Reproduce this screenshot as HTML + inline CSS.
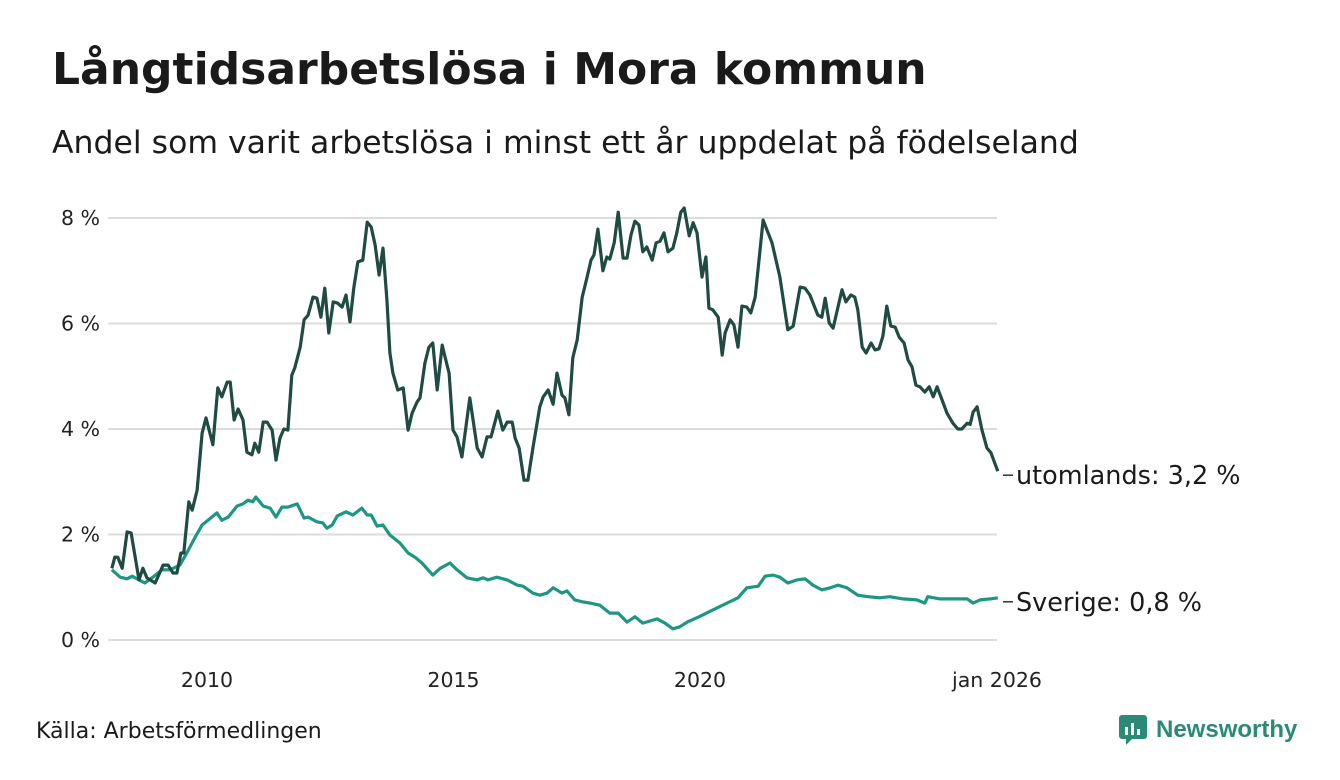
<!DOCTYPE html>
<html><head><meta charset="utf-8">
<style>
html,body{margin:0;padding:0;background:#fff;}
body{width:1340px;height:780px;overflow:hidden;position:relative;font-family:"DejaVu Sans","Liberation Sans",sans-serif;color:#1a1a1a;}
#title{position:absolute;left:52px;top:44px;font-size:44px;font-weight:bold;margin:0;white-space:nowrap;}
#subtitle{position:absolute;left:52px;top:125px;font-size:31.5px;margin:0;white-space:nowrap;}
#source{position:absolute;left:36px;top:719px;font-size:22px;}
#logo{position:absolute;left:1118px;top:714px;display:flex;align-items:center;gap:8px;font-family:"Liberation Sans",sans-serif;}
#logo span{font-size:24px;font-weight:bold;color:#2a8a76;}
svg{position:absolute;left:0;top:0;}
</style></head>
<body>
<h1 id="title">Långtidsarbetslösa i Mora kommun</h1>
<p id="subtitle">Andel som varit arbetslösa i minst ett år uppdelat på födelseland</p>
<svg id="chart" width="1340" height="780"></svg>
<div id="source">Källa: Arbetsförmedlingen</div>
<div id="logo">
<svg width="30" height="32" viewBox="0 0 30 32" style="position:static"><rect x="1" y="1" width="28" height="24" rx="3" fill="#2a8a76"/><polygon points="8,25 14,25 8,31" fill="#2a8a76"/><rect x="7" y="13" width="3" height="8" fill="#fff"/><rect x="13" y="9" width="3" height="12" fill="#fff"/><rect x="19" y="15" width="3" height="6" fill="#fff"/></svg>
<span>Newsworthy</span></div>
<script>
const yTicks=[0,2,4,6,8];
const xTickYears=[2010,2015,2020,2026];
const xTickLabels=["2010","2015","2020","jan 2026"];
const foreignDates=[2008.07,2008.13,2008.19,2008.28,2008.38,2008.46,2008.62,2008.70,2008.78,2008.95,2009.11,2009.21,2009.31,2009.39,2009.47,2009.53,2009.63,2009.70,2009.80,2009.90,2009.98,2010.12,2010.22,2010.30,2010.41,2010.47,2010.55,2010.63,2010.73,2010.81,2010.91,2010.97,2011.05,2011.14,2011.22,2011.32,2011.40,2011.48,2011.56,2011.64,2011.72,2011.78,2011.89,2011.97,2012.05,2012.15,2012.23,2012.31,2012.39,2012.47,2012.56,2012.64,2012.74,2012.82,2012.90,2012.98,2013.06,2013.16,2013.25,2013.33,2013.41,2013.49,2013.57,2013.65,2013.71,2013.77,2013.87,2013.98,2014.08,2014.16,2014.26,2014.32,2014.42,2014.50,2014.58,2014.67,2014.77,2014.83,2014.91,2014.99,2015.07,2015.17,2015.33,2015.48,2015.58,2015.68,2015.76,2015.90,2016.00,2016.09,2016.19,2016.25,2016.33,2016.43,2016.51,2016.61,2016.75,2016.82,2016.92,2017.02,2017.10,2017.20,2017.26,2017.34,2017.42,2017.51,2017.61,2017.71,2017.79,2017.85,2017.93,2018.03,2018.11,2018.17,2018.26,2018.34,2018.44,2018.52,2018.60,2018.68,2018.76,2018.84,2018.92,2019.03,2019.11,2019.19,2019.27,2019.35,2019.45,2019.53,2019.61,2019.68,2019.78,2019.86,2019.94,2020.04,2020.12,2020.18,2020.26,2020.37,2020.45,2020.51,2020.61,2020.69,2020.77,2020.85,2020.95,2021.03,2021.12,2021.28,2021.46,2021.62,2021.78,2021.89,2022.03,2022.13,2022.23,2022.39,2022.47,2022.54,2022.62,2022.70,2022.88,2022.96,2023.06,2023.14,2023.20,2023.29,2023.37,2023.47,2023.55,2023.63,2023.71,2023.79,2023.87,2023.96,2024.04,2024.14,2024.22,2024.30,2024.38,2024.46,2024.56,2024.65,2024.73,2024.81,2024.91,2025.01,2025.13,2025.23,2025.31,2025.42,2025.48,2025.54,2025.62,2025.72,2025.82,2025.90,2026.04];
const foreignValues=[1.36,1.57,1.57,1.36,2.05,2.03,1.14,1.36,1.18,1.08,1.42,1.42,1.27,1.27,1.65,1.65,2.62,2.46,2.84,3.92,4.21,3.70,4.78,4.61,4.89,4.89,4.17,4.38,4.17,3.56,3.51,3.73,3.56,4.13,4.13,3.98,3.41,3.83,4.00,3.98,5.02,5.16,5.55,6.07,6.16,6.50,6.48,6.12,6.67,5.82,6.41,6.39,6.31,6.54,6.03,6.69,7.17,7.20,7.92,7.83,7.49,6.92,7.43,6.45,5.44,5.06,4.74,4.78,3.98,4.30,4.51,4.59,5.25,5.55,5.63,4.74,5.59,5.36,5.06,3.98,3.85,3.47,4.59,3.64,3.47,3.85,3.85,4.34,3.98,4.13,4.13,3.83,3.64,3.03,3.03,3.64,4.42,4.61,4.74,4.47,5.06,4.64,4.59,4.27,5.35,5.69,6.50,6.88,7.20,7.30,7.79,7.00,7.26,7.22,7.53,8.11,7.24,7.24,7.68,7.94,7.87,7.36,7.45,7.20,7.53,7.56,7.72,7.36,7.43,7.72,8.11,8.19,7.66,7.91,7.72,6.88,7.26,6.29,6.26,6.12,5.40,5.82,6.07,5.97,5.55,6.33,6.31,6.20,6.50,7.96,7.53,6.88,5.88,5.95,6.69,6.67,6.54,6.16,6.12,6.48,6.01,5.91,6.64,6.41,6.54,6.50,6.26,5.55,5.44,5.63,5.50,5.52,5.76,6.33,5.95,5.93,5.74,5.63,5.31,5.18,4.83,4.80,4.70,4.80,4.61,4.80,4.55,4.30,4.11,4.00,4.00,4.11,4.09,4.32,4.42,3.98,3.64,3.55,3.20];
const swedenDates=[2008.07,2008.24,2008.38,2008.48,2008.58,2008.74,2008.90,2009.09,2009.25,2009.45,2009.59,2009.76,2009.90,2010.02,2010.20,2010.30,2010.43,2010.61,2010.73,2010.83,2010.93,2010.99,2011.14,2011.28,2011.40,2011.52,2011.64,2011.83,2011.97,2012.05,2012.23,2012.35,2012.43,2012.54,2012.64,2012.82,2012.96,2013.14,2013.25,2013.33,2013.45,2013.57,2013.71,2013.91,2014.08,2014.22,2014.36,2014.58,2014.73,2014.93,2015.07,2015.27,2015.48,2015.60,2015.70,2015.88,2016.09,2016.29,2016.41,2016.61,2016.75,2016.90,2017.02,2017.20,2017.30,2017.46,2017.63,2017.77,2017.97,2018.17,2018.34,2018.52,2018.68,2018.84,2019.13,2019.29,2019.45,2019.59,2019.74,2020.00,2020.26,2020.55,2020.77,2020.95,2021.18,2021.32,2021.48,2021.62,2021.78,2021.97,2022.13,2022.29,2022.47,2022.64,2022.80,2022.98,2023.20,2023.41,2023.65,2023.85,2024.12,2024.40,2024.56,2024.62,2024.87,2025.13,2025.42,2025.54,2025.68,2025.89,2026.04];
const swedenValues=[1.33,1.19,1.16,1.21,1.16,1.08,1.19,1.33,1.33,1.42,1.65,1.95,2.18,2.27,2.41,2.27,2.33,2.54,2.58,2.65,2.62,2.71,2.54,2.50,2.33,2.52,2.52,2.58,2.31,2.33,2.24,2.22,2.12,2.18,2.35,2.43,2.37,2.50,2.37,2.37,2.16,2.18,1.99,1.84,1.65,1.57,1.46,1.23,1.36,1.46,1.33,1.18,1.14,1.18,1.14,1.19,1.14,1.04,1.02,0.89,0.85,0.89,0.99,0.89,0.93,0.76,0.72,0.70,0.66,0.51,0.51,0.34,0.44,0.32,0.40,0.32,0.21,0.25,0.34,0.45,0.57,0.70,0.80,0.99,1.02,1.21,1.23,1.19,1.08,1.14,1.16,1.04,0.95,0.99,1.04,0.99,0.85,0.82,0.80,0.82,0.78,0.76,0.70,0.82,0.78,0.78,0.78,0.70,0.76,0.78,0.80];
const seriesLabels=["utomlands: 3,2 %","Sverige: 0,8 %"];

const NS="http://www.w3.org/2000/svg";
const FONT='DejaVu Sans, Liberation Sans, sans-serif';
const svg=document.getElementById('chart');
const x=yr=>207+(yr-2010)*49.3;
const y=v=>640-v*52.75;
function mk(tag,attrs){const e=document.createElementNS(NS,tag);for(const k in attrs)e.setAttribute(k,attrs[k]);svg.appendChild(e);return e;}
yTicks.forEach(t=>{
  const g=mk('line',{x1:108,x2:997,y1:y(t),y2:y(t),stroke:'#dcdcdc','stroke-width':2});
  
  
  const l=mk('text',{x:100,y:y(t)+7,'text-anchor':'end','font-size':20.5,fill:'#222','font-family':FONT});
  l.textContent=t+' %';
  
  
});
xTickYears.forEach((yr,i)=>{
  const l=mk('text',{x:i===3?997:x(yr),y:687,'text-anchor':'middle','font-size':20.5,fill:'#222','font-family':FONT});
  l.textContent=xTickLabels[i];
  
  
});
function line(dates,vals,color,name){
  const d=dates.map((t,i)=>(i?'L':'M')+x(t).toFixed(1)+','+y(vals[i]).toFixed(1)).join('');
  const p=mk('path',{d:d,fill:'none',stroke:color,'stroke-width':3.2,'stroke-linejoin':'round'});
  
  
}
line(swedenDates,swedenValues,'#1b9784','sverige-line');
line(foreignDates,foreignValues,'#1f4b43','utomlands-line');
[[foreignDates,foreignValues],[swedenDates,swedenValues]].forEach((s,i)=>{
  const n=s[0].length-1, yy=y(s[1][n])+4;
  const t=mk('line',{x1:1003,x2:1013,y1:yy,y2:yy,stroke:'#333','stroke-width':1.5});
  
  
  const l=mk('text',{x:1016,y:yy+9,'font-size':25.5,fill:'#1a1a1a','font-family':FONT});
  l.textContent=seriesLabels[i];
  
  
});
</script>
</body></html>
